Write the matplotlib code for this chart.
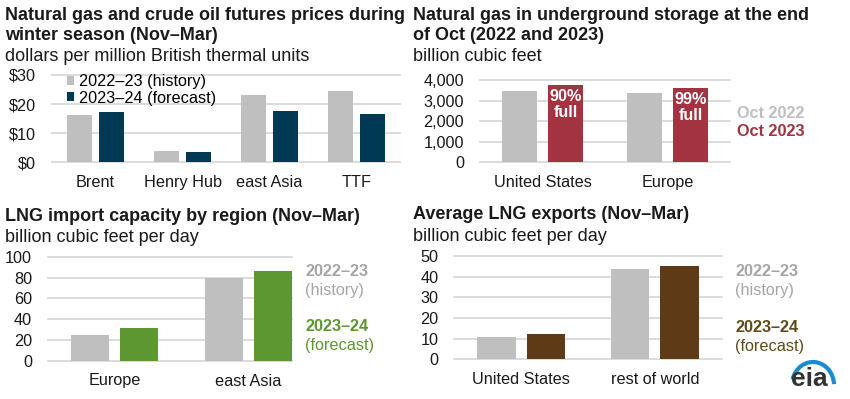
import matplotlib
matplotlib.use('Agg')
import matplotlib.pyplot as plt
from matplotlib.patches import Patch, Arc
import numpy as np

plt.rcParams['font.family'] = ['Liberation Sans', 'DejaVu Sans']

W, H = 850, 399
DPI = 100

GRAY = '#BFBFBF'
LEGEND_GRAY = '#A6A6A6'
NAVY = '#003953'
RED = '#A33340'
GREEN = '#5D9732'
BROWN = '#5E3A17'
BROWN_TEXT = '#5F4B17'
GRID = '#D9D9D9'
TEXT = '#1A1A1A'
FS = 11.7

# ---- data ----
price_categories = ['Brent', 'Henry Hub', 'east Asia', 'TTF']
price_2022_23 = [16.3, 4.0, 23.1, 24.6]
price_2023_24 = [17.3, 3.4, 17.7, 16.6]
price_ticks = [0, 10, 20, 30]
price_tick_labels = ['$0', '$10', '$20', '$30']
price_series = ['2022–23 (history)', '2023–24 (forecast)']

storage_categories = ['United States', 'Europe']
storage_oct2022 = [3480, 3380]
storage_oct2023 = [3770, 3625]
storage_full_labels = ['90%\nfull', '99%\nfull']
storage_ticks = [0, 1000, 2000, 3000, 4000]
storage_tick_labels = ['0', '1,000', '2,000', '3,000', '4,000']
storage_series = ['Oct 2022', 'Oct 2023']

import_categories = ['Europe', 'east Asia']
import_2022_23 = [25, 80]
import_2023_24 = [31.3, 86.5]
import_ticks = [0, 20, 40, 60, 80, 100]

export_categories = ['United States', 'rest of world']
export_2022_23 = [10.9, 43.8]
export_2023_24 = [12.1, 45.0]
export_ticks = [0, 10, 20, 30, 40, 50]

season_labels = [('2022–23', '(history)'), ('2023–24', '(forecast)')]

# ---- figure ----
fig = plt.figure(figsize=(W / DPI, H / DPI), dpi=DPI)
fig.patch.set_facecolor('white')


def fx(px):
    return px / W


def fy(py):
    return 1 - py / H


def make_ax(left, right, top, bottom):
    return fig.add_axes([left / W, 1 - bottom / H, (right - left) / W, (bottom - top) / H])


OFF = 0.184
BW = 0.287


def draw(ax, cats, a, b, colb, ticks, labels, xlim, pad_px):
    x = np.arange(len(cats))
    for t in ticks:
        ax.axhline(t, color=GRID, linewidth=1.3, zorder=0, clip_on=False)
    ax.bar(x - OFF, a, BW, color=GRAY, zorder=2)
    ax.bar(x + OFF, b, BW, color=colb, zorder=2)
    ax.set_xlim(*xlim)
    ax.set_ylim(ticks[0], ticks[-1])
    ax.set_yticks(ticks)
    ax.set_yticklabels(labels)
    ax.set_xticks(x)
    ax.set_xticklabels(cats)
    for s in ax.spines.values():
        s.set_visible(False)
    ax.tick_params(axis='both', length=0, labelsize=FS, labelcolor=TEXT)
    ax.tick_params(axis='y', pad=pad_px * 0.72)
    ax.tick_params(axis='x', pad=9)
    ax.patch.set_alpha(0)
    return x


def title(x, y, s, bold=True):
    fig.text(fx(x), fy(y), s, fontsize=13,
             fontweight='bold' if bold else 'normal', color=TEXT, va='baseline', ha='left')


# Panel 1
ax1 = make_ax(52, 400, 75, 162.3)
draw(ax1, price_categories, price_2022_23, price_2023_24, NAVY,
     price_ticks, price_tick_labels, (-0.5, 3.5), 16)
ax1.legend(handles=[Patch(facecolor=GRAY, label=price_series[0]),
                    Patch(facecolor=NAVY, label=price_series[1])],
           loc='upper left', bbox_to_anchor=(fx(67), fy(74)), bbox_transform=fig.transFigure,
           frameon=False, fontsize=FS, handlelength=0.45, handleheight=0.45,
           handletextpad=0.3, labelspacing=0.1, borderpad=0, borderaxespad=0)
title(5, 20, 'Natural gas and crude oil futures prices during')
title(5, 39.5, 'winter season (Nov–Mar)')
title(5, 61, 'dollars per million British thermal units', bold=False)

# Panel 2
ax2 = make_ax(480, 730, 80.3, 162.3)
x2 = draw(ax2, storage_categories, storage_oct2022, storage_oct2023, RED,
          storage_ticks, storage_tick_labels, (-0.5, 1.5), 16)
for xi, v, lab in zip(x2, storage_oct2023, storage_full_labels):
    ax2.annotate(lab, (xi + OFF, v), xytext=(0, -3), textcoords='offset points',
                 ha='center', va='top', color='white', fontweight='bold',
                 fontsize=FS, linespacing=1.05, zorder=3)
fig.text(fx(737), fy(113), storage_series[0], color=GRAY, fontweight='bold',
         fontsize=FS, va='center', ha='left')
fig.text(fx(737), fy(132), storage_series[1], color=RED, fontweight='bold',
         fontsize=FS, va='center', ha='left')
title(413, 20, 'Natural gas in underground storage at the end')
title(413, 39.5, 'of Oct (2022 and 2023)')
title(413, 61, 'billion cubic feet', bold=False)

# Panel 3
ax3 = make_ax(48, 292, 256.7, 361)
draw(ax3, import_categories, import_2022_23, import_2023_24, GREEN,
     import_ticks, [str(t) for t in import_ticks], (-0.5, 1 + OFF + BW / 2), 16)
title(5, 220.5, 'LNG import capacity by region (Nov–Mar)')
title(5, 241.5, 'billion cubic feet per day', bold=False)


def season_legend(x, ys, col2):
    cols = [LEGEND_GRAY, col2]
    for i, (a, b) in enumerate(season_labels):
        fig.text(fx(x), fy(ys[2 * i]), a, color=cols[i], fontweight='bold',
                 fontsize=FS, va='center', ha='left')
        fig.text(fx(x), fy(ys[2 * i + 1]), b, color=cols[i],
                 fontsize=FS, va='center', ha='left')


season_legend(305.5, [271, 290, 326.5, 345.5], GREEN)

# Panel 4
ax4 = make_ax(454.3, 721.7, 256, 359.3)
draw(ax4, export_categories, export_2022_23, export_2023_24, BROWN,
     export_ticks, [str(t) for t in export_ticks], (-0.5, 1.5), 16)
title(413, 219, 'Average LNG exports (Nov–Mar)')
title(413, 240.5, 'billion cubic feet per day', bold=False)
season_legend(735, [271.5, 291, 328, 346], BROWN_TEXT)

# eia logo
fig.text(fx(809), fy(379), 'eia', color='#333333', fontweight='bold', fontsize=19,
         ha='center', va='center')
fig.patches.append(Arc((fx(813), fy(385)), 42 / W, 46 / H, theta1=5, theta2=150,
                       transform=fig.transFigure, color='#1C8AD1', linewidth=3))

fig.savefig('out.png', dpi=DPI, facecolor='white')
